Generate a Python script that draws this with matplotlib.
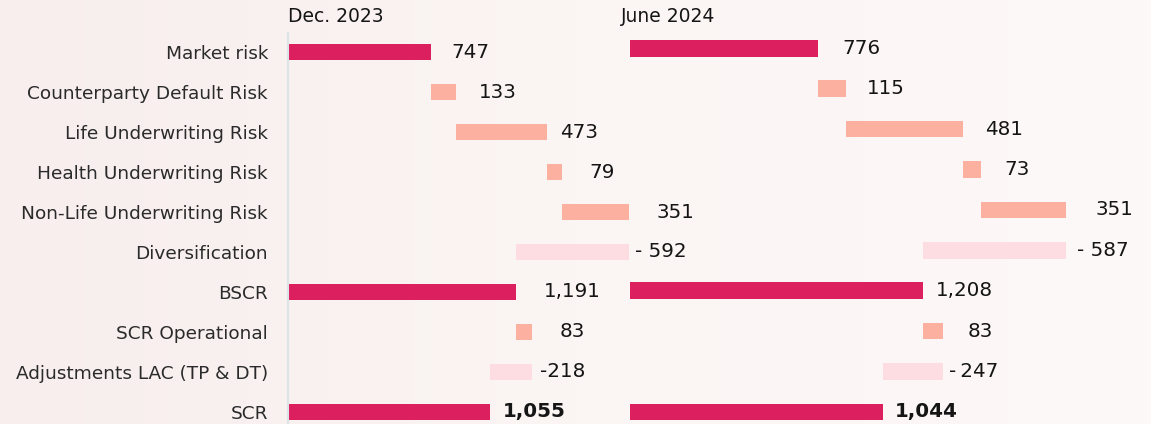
import matplotlib
matplotlib.use("Agg")
import matplotlib.pyplot as plt
import numpy as np
from matplotlib.colors import LinearSegmentedColormap

# ---- data -------------------------------------------------------------
categories = [
    "Market risk",
    "Counterparty Default Risk",
    "Life Underwriting Risk",
    "Health Underwriting Risk",
    "Non-Life Underwriting Risk",
    "Diversification",
    "BSCR",
    "SCR Operational",
    "Adjustments LAC (TP & DT)",
    "SCR",
]
dec_2023 = [747, 133, 473, 79, 351, -592, 1191, 83, -218, 1055]
jun_2024 = [776, 115, 481, 73, 351, -587, 1208, 83, -247, 1044]
# rows drawn from zero (sub-totals); the others float on the running sum
is_total = [True, False, False, False, False, False, True, False, False, True]
period_labels = ["Dec. 2023", "June 2024"]

# ---- style ------------------------------------------------------------
DARK = "#dc1f5e"
SALMON = "#fbb0a0"
PINK = "#fddce2"
W, H = 1151, 424
FONT = "DejaVu Sans"

fig = plt.figure(figsize=(W / 100, H / 100), dpi=100)

# soft pink backdrop, a touch warmer on the left
bg = fig.add_axes([0, 0, 1, 1], zorder=-10)
cmap = LinearSegmentedColormap.from_list("bg", ["#f7eeed", "#fbf5f4", "#fdf9f8"])
grad = np.tile(np.linspace(0, 1, 256), (8, 1))
bg.imshow(grad, cmap=cmap, aspect="auto", extent=[0, 1, 0, 1])
bg.set_axis_off()


def px_axes(x0, x1, y0, y1):
    return fig.add_axes([x0 / W, 1 - y1 / H, (x1 - x0) / W, (y1 - y0) / H])


def waterfall(values, totals):
    starts, running = [], 0
    for v, t in zip(values, totals):
        if t:
            starts.append(0)
            running = v
        else:
            starts.append(running)
            running += v
    return starts


def fmt(v, neg_prefix):
    if v < 0:
        return f"{neg_prefix}{abs(v):,}"
    return f"{v:,}"


panels = [
    dict(values=dec_2023, x0=287.5, x1=630, xmax=1786.6,
         ylim=(9.31, -0.476), bar_h=0.40,
         gaps=[20.7, 22.6, 13, 27, 27, 6, 28.3, 28, 8, 13.3],
         neg=["- ", "-"], title_x=288),
    dict(values=jun_2024, x0=630, x1=1151, xmax=2146.7,
         ylim=(9.30, -0.371), bar_h=0.41,
         gaps=[24.4, 21, 22.3, 23.7, 30, 10.7, 12.7, 24.3, 6, 11.7],
         neg=["- ", "-\u2009"], title_x=620.7),
]

y = np.arange(len(categories))
for k, p in enumerate(panels):
    ax = px_axes(p["x0"], p["x1"], 33.3, 424)
    ax.set_facecolor("none")
    vals = p["values"]
    starts = waterfall(vals, is_total)
    colors = [DARK if t else (SALMON if v > 0 else PINK)
              for v, t in zip(vals, is_total)]
    ax.barh(y, vals, left=starts, height=p["bar_h"], color=colors,
            edgecolor="none", zorder=2)
    ax.set_xlim(0, p["xmax"])
    ax.set_ylim(*p["ylim"])

    neg_iter = iter(p["neg"])
    for i, (v, s) in enumerate(zip(vals, starts)):
        end = max(s, s + v)
        prefix = next(neg_iter) if v < 0 else ""
        ax.annotate(fmt(v, prefix), xy=(end, i),
                    xytext=(p["gaps"][i] * 0.72, 0), textcoords="offset points",
                    ha="left", va="center", fontsize=14.3, family=FONT,
                    color="#151515",
                    fontweight="bold" if i == len(vals) - 1 else "normal",
                    annotation_clip=False)

    for side in ("top", "right", "bottom"):
        ax.spines[side].set_visible(False)
    ax.set_xticks([])
    if k == 0:
        ax.spines["left"].set_color("#dde3e8")
        ax.spines["left"].set_linewidth(1.5)
        ax.set_yticks(y)
        ax.set_yticklabels(categories, fontsize=13.3, family=FONT,
                           color="#2a2a2a")
        ax.tick_params(axis="y", length=0, pad=14)
    else:
        ax.spines["left"].set_visible(False)
        ax.set_yticks([])

    fig.text(p["title_x"] / W, 1 - 16.3 / H, period_labels[k],
             ha="left", va="center", fontsize=13.5, family=FONT,
             color="#151515")

fig.savefig("out.png", dpi=100)
